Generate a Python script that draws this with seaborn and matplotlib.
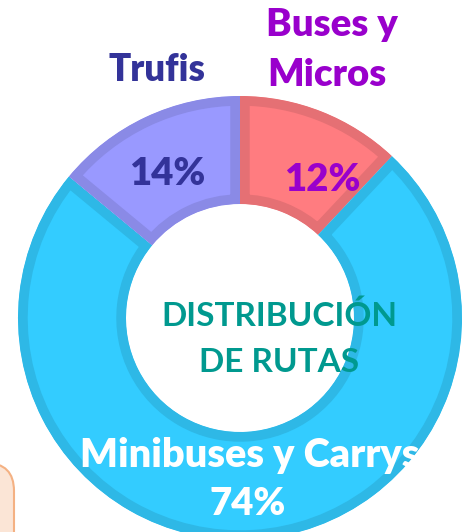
import matplotlib
matplotlib.use("Agg")
import seaborn as sns
from matplotlib import pyplot as plt
from matplotlib.patches import FancyBboxPatch

sns.set_theme(style="white")
plt.rcParams["font.family"] = ["Lato", "DejaVu Sans"]

# data
categories = ["Buses y Micros", "Minibuses y Carrys", "Trufis"]
shares = [12, 74, 14]
pct_labels = ["12%", "74%", "14%"]
fill_colors = ["#FF7C80", "#33CCFF", "#9999FF"]
edge_colors = ["#E57074", "#2EB8E6", "#8A8AE6"]
title_lines = ["DISTRIBUCIÓN", "DE RUTAS"]

W, H = 462, 532
fig = plt.figure(figsize=(W / 100, H / 100), dpi=100)
ax = fig.add_axes([0, 0, 1, 1])


def py(y_px):
    # pixel row (from top) -> data y
    return H - y_px


# peach box peeking in at the lower left
box = FancyBboxPatch((-60, py(600)), 74, 600 - 463, boxstyle="round,pad=0,rounding_size=28",
                     facecolor="#FBE5D6", edgecolor="#F4B183", linewidth=1.5, zorder=0)
ax.add_patch(box)

R, r = 222, 114
wedges, _ = ax.pie(
    shares,
    colors=fill_colors,
    startangle=90,
    counterclock=False,
    center=(240, py(318)),
    radius=R,
    wedgeprops=dict(width=R - r, linewidth=0),
    frame=True,
)
ax.set_xlim(0, W)
ax.set_ylim(0, H)
ax.set_aspect("equal")
ax.axis("off")

# inner border: stroke clipped to each wedge
for w, ec in zip(wedges, edge_colors):
    w.set_edgecolor(ec)
    w.set_linewidth(14)
    w.set_clip_on(True)
    w.set_clip_path(w)
    w.set_zorder(1)

bold = dict(fontweight="heavy", ha="center", va="center", zorder=3)

ax.text(157, py(70), categories[2], color="#333399", fontsize=26.5, **bold)
ax.text(332, py(25), "Buses y", color="#9900CC", fontsize=27.5, **bold)
ax.text(327, py(75), "Micros", color="#9900CC", fontsize=27.5, **bold)

ax.text(167, py(174), pct_labels[2], color="#333399", fontsize=27.5, **bold)
ax.text(322, py(180), pct_labels[0], color="#9900CC", fontsize=27.5, **bold)

ax.text(279, py(316), title_lines[0], color="#00998F", fontsize=24, fontweight="bold",
        ha="center", va="center", zorder=3)
ax.text(279, py(362), title_lines[1], color="#00998F", fontsize=24, fontweight="bold",
        ha="center", va="center", zorder=3)

ax.text(250, py(455), categories[1], color="white", fontsize=28.5, **bold)
ax.text(248, py(504), pct_labels[1], color="white", fontsize=27.5, **bold)

fig.savefig("out.png", dpi=100)
